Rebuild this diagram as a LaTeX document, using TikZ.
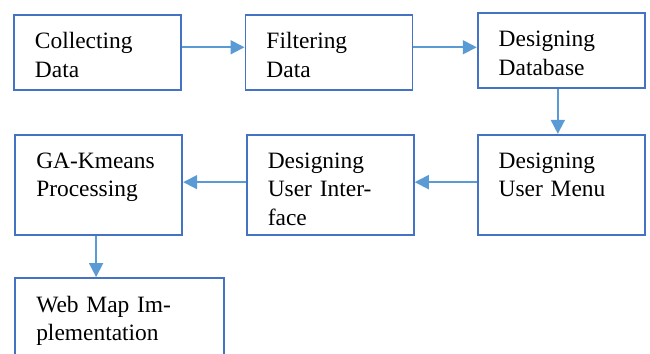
\documentclass[tikz,border=0pt]{standalone}
\usepackage{fontspec}
\setmainfont{Liberation Serif}
\usepackage{xcolor}
\usetikzlibrary{positioning,arrows.meta}

\definecolor{boxblue}{HTML}{4472C4}
\definecolor{arrowblue}{HTML}{5B9BD5}

\begin{document}
\begin{tikzpicture}[
        stage/.style={rectangle, draw=boxblue, line width=1.6pt, align=left,
            text width=3.75cm, inner xsep=0.63cm, inner ysep=0pt,
            text height=1.02cm, text depth=1.22cm, font=\fontsize{20}{24}\selectfont},
        tall/.style={text depth=1.98cm},
        arrow/.style={-{Triangle[length=0.42cm, width=0.42cm]}, draw=arrowblue, fill=arrowblue, line width=1.5pt}
    ]
        \useasboundingbox (0,0) rectangle (19.5,-10.62);
        \clip (0,0) rectangle (19.5,-10.62);

        % Row 1 (left to right)
        \node[stage, anchor=north west] (collect) at (0.39,-0.42) {Collecting\\Data};
        \node[stage, right=1.88cm of collect] (filter) {Filtering\\Data};
        \node[stage, right=1.9cm of filter, yshift=0.06cm] (database) {Designing\\Database};

        % Row 2 (right to left)
        \node[stage, tall, below=1.36cm of database.south, anchor=north] (menu) {Designing\\User Menu};
        \node[stage, tall, left=1.86cm of menu] (interface) {Designing\\User Inter-\\face};
        \node[stage, tall, left=1.88cm of interface] (kmeans) {GA-Kmeans\\Processing};

        % Last step
        \node[stage, tall, text width=5.01cm, below=1.24cm of kmeans.south west, anchor=north west] (webmap) {Web Map Im-\\plementation};

        % Arrows
        \draw[arrow] ([yshift=0.15cm]collect.east) -- ([yshift=0.15cm]filter.west);
        \draw[arrow] ([yshift=0.15cm]filter.east) -- ([yshift=0.09cm]database.west);
        \draw[arrow] ([xshift=-0.1cm]database.south) -- ([xshift=-0.1cm]menu.north);
        \draw[arrow] ([yshift=0.08cm]menu.west) -- ([yshift=0.08cm]interface.east);
        \draw[arrow] ([yshift=0.08cm]interface.west) -- ([yshift=0.08cm]kmeans.east);
        \draw[arrow] ([xshift=-0.08cm]kmeans.south) -- ([xshift=-0.08cm]kmeans.south |- webmap.north);
    \end{tikzpicture}
\end{document}
